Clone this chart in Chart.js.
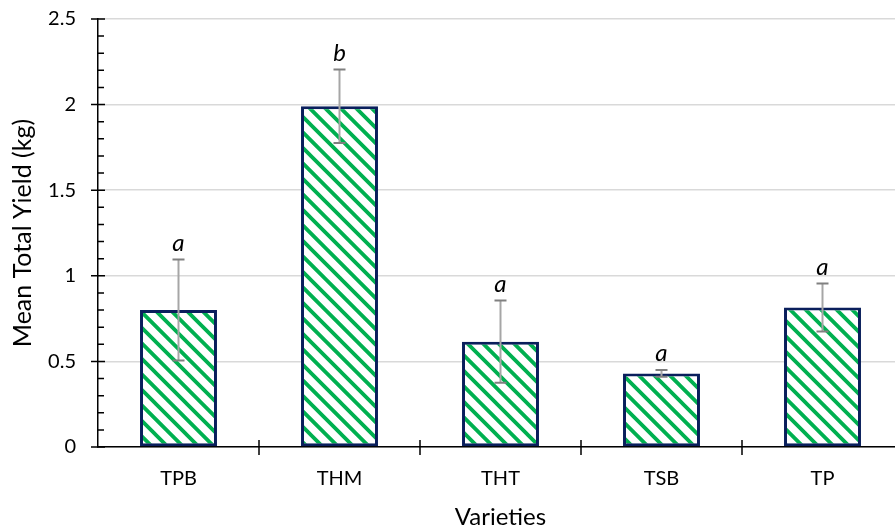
<!DOCTYPE html>
<html><head><meta charset="utf-8">
<script src="https://cdn.jsdelivr.net/npm/chart.js@4.4.1/dist/chart.umd.min.js"></script>
<style>html,body{margin:0;padding:0;background:#fff;overflow:hidden;} #wrap{width:895px;height:529px;overflow:hidden;position:relative;}</style>
</head><body><div id="wrap"><canvas id="c" width="910" height="529" style="width:910px;height:529px;display:block"></canvas></div>
<script>
const categories = ['TPB', 'THM', 'THT', 'TSB', 'TP'];
const meanYield = [0.80, 1.99, 0.615, 0.43, 0.815];
const stdError = [0.295, 0.215, 0.24, 0.02, 0.14];
const groupLetters = ['a', 'b', 'a', 'a', 'a'];
const yTicks = [0, 0.5, 1, 1.5, 2, 2.5];

Chart.defaults.font.family = 'Lato';
Chart.defaults.color = '#000';

function makePattern() {
  const s = 31;
  const t = document.createElement('canvas');
  t.width = s; t.height = s;
  const g = t.getContext('2d');
  g.fillStyle = '#fff';
  g.fillRect(0, 0, s, s);
  g.strokeStyle = '#00B050';
  g.lineWidth = 3.8;
  g.beginPath();
  [0, s / 2].forEach(x0 => {
    for (let k = -3; k <= 2; k++) {
      g.moveTo(x0 + k * s - s, -s);
      g.lineTo(x0 + k * s + 2 * s, 2 * s);
    }
  });
  g.stroke();
  return document.getElementById('c').getContext('2d').createPattern(t, 'repeat');
}

const decor = {
  id: 'decor',
  afterDatasetsDraw(chart) {
    const { ctx, scales: { y } } = chart;
    const meta = chart.getDatasetMeta(0);
    ctx.save();
    meta.data.forEach((bar, i) => {
      const cx = bar.x;
      const yt = y.getPixelForValue(meanYield[i] + stdError[i]);
      const yb = y.getPixelForValue(meanYield[i] - stdError[i]);
      ctx.lineWidth = 2;
      ctx.strokeStyle = '#A6A6A6';
      ctx.beginPath(); ctx.moveTo(cx, yt); ctx.lineTo(cx, yb); ctx.stroke();
      ctx.strokeStyle = '#808080';
      ctx.beginPath();
      ctx.moveTo(cx - 6, yt); ctx.lineTo(cx + 6, yt);
      ctx.moveTo(cx - 6, yb); ctx.lineTo(cx + 6, yb);
      ctx.stroke();
      ctx.fillStyle = '#000';
      ctx.font = 'italic 24px Lato';
      ctx.textAlign = 'center';
      ctx.textBaseline = 'alphabetic';
      ctx.fillText(groupLetters[i], cx, yt - 9);
    });
    ctx.restore();
  },
  afterDraw(chart) {
    const { ctx, scales: { x, y }, chartArea: ca } = chart;
    ctx.save();
    ctx.strokeStyle = '#000';
    ctx.lineWidth = 1.5;
    ctx.beginPath();
    yTicks.forEach(v => {
      const py = y.getPixelForValue(v);
      ctx.moveTo(ca.left - 7, py); ctx.lineTo(ca.left + 7, py);
    });
    for (let k = 0; k <= 25; k++) {
      if (k % 5 === 0) continue;
      const py = y.getPixelForValue(k / 10);
      ctx.moveTo(ca.left, py); ctx.lineTo(ca.left + 6, py);
    }
    for (let i = 1; i <= categories.length; i++) {
      const px = x.getPixelForValue(i - 0.5);
      ctx.moveTo(px, ca.bottom - 7); ctx.lineTo(px, ca.bottom + 8);
    }
    ctx.stroke();
    ctx.restore();
  }
};

new Chart(document.getElementById('c'), {
  type: 'bar',
  data: {
    labels: categories,
    datasets: [{
      data: meanYield,
      backgroundColor: makePattern(),
      borderColor: '#0A1F5C',
      borderWidth: 3,
      borderSkipped: false,
      categoryPercentage: 1,
      barPercentage: 0.478
    }]
  },
  options: {
    responsive: false,
    animation: false,
    devicePixelRatio: 1,
    layout: { padding: { left: 0, right: 7, top: 19, bottom: 0 } },
    plugins: { legend: { display: false }, tooltip: { enabled: false } },
    scales: {
      x: {
        grid: { display: false },
        border: { display: true, color: '#000', width: 1.5 },
        ticks: { font: { size: 20 }, padding: 12, maxRotation: 0 },
        title: { display: true, text: 'Varieties', font: { size: 24 }, padding: { top: 0, bottom: -3 } },
        afterFit(s) { s.height = 82; }
      },
      y: {
        min: 0, max: 2.5,
        afterBuildTicks(s) { s.ticks = yTicks.map(v => ({ value: v })); },
        grid: { color: '#D9D9D9', lineWidth: 1.5, drawTicks: true, tickLength: 22, tickColor: 'rgba(0,0,0,0)' },
        border: { display: true, color: '#000', width: 1.5 },
        ticks: { font: { size: 20 }, padding: 0, callback: v => String(v) },
        title: { display: true, text: 'Mean Total Yield (kg)', font: { size: 25 }, padding: { top: 8, bottom: 0 } },
        afterFit(s) { s.width = 98; }
      }
    }
  },
  plugins: [decor]
});
</script></body></html>
